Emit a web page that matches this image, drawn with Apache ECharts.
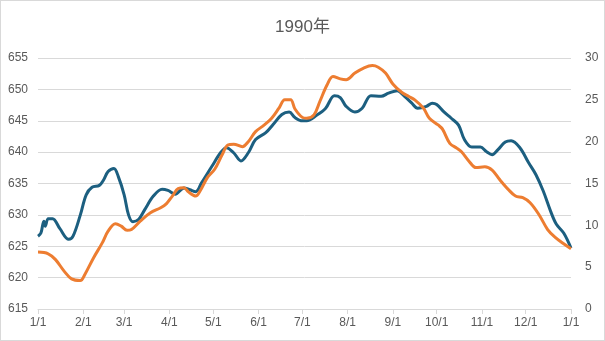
<!DOCTYPE html>
<html>
<head>
<meta charset="utf-8">
<script src="https://cdn.jsdelivr.net/npm/echarts@6/dist/echarts.min.js"></script>
<style>
  html, body { margin: 0; padding: 0; background: #fff; }
  #chart { width: 603px; height: 339px; border: 1px solid #d9d9d9; }
</style>
</head>
<body>
<div id="chart"></div>
<script>
// Title and axis ranges
const titleText = '1990年';
const leftTicks = { min: 615, max: 655, interval: 5 };
const rightTicks = { min: 0, max: 30, interval: 5 };

// Day-of-year categories, 1990-01-01 .. 1991-01-01, labelled "M/D"
const categories = [];
for (let d = new Date(Date.UTC(1990, 0, 1)); d <= new Date(Date.UTC(1991, 0, 1)); d.setUTCDate(d.getUTCDate() + 1)) {
  categories.push((d.getUTCMonth() + 1) + '/' + d.getUTCDate());
}

// Left-axis series: [day index, value]
const seriesLeft = [
  [0, 626.6], [2, 627.1], [3.5, 629.0], [4.5, 628.2], [7, 629.4], [10, 629.4],
  [15, 627.8], [21, 626.1], [24, 626.6], [29, 630.0], [33, 633.2], [37, 634.4],
  [42, 634.7], [45, 635.6], [48, 636.9], [52, 637.4], [55, 636.1], [59, 633.2],
  [62, 630.0], [65, 628.9], [69, 629.3], [73, 630.8], [79, 633.0], [85, 634.1],
  [89, 633.9], [94, 633.3], [100, 634.3], [104, 634.0], [108, 633.7], [112, 635.1],
  [119, 637.7], [125, 639.9], [129, 640.7], [134, 639.9], [139, 638.6], [144, 639.9],
  [149, 642.0], [156, 643.1], [161, 644.4], [167, 646.0], [172, 646.4], [176, 645.5],
  [181, 645.0], [184, 645.0], [191, 645.9], [197, 647.0], [203, 649.0], [207, 648.7],
  [211, 647.3], [217, 646.4], [222, 647.0], [228, 649.0], [235, 648.9], [240, 649.4],
  [246, 649.8], [251, 648.9], [256, 647.8], [260, 647.0], [266, 647.3], [270, 647.8],
  [273, 647.6], [278, 646.4], [283, 645.4], [288, 644.3], [292, 642.0], [297, 640.8],
  [303, 640.8], [307, 640.1], [311, 639.6], [315, 640.4], [320, 641.6], [324, 641.8],
  [330, 640.7], [336, 638.3], [341, 636.4], [346, 633.8], [351, 630.6], [355, 628.5],
  [360, 627.1], [365, 624.7]
];

// Right-axis series: [day index, value]
const seriesRight = [
  [0, 6.8], [7, 6.6], [12, 5.9], [18, 4.5], [23, 3.6], [29, 3.4], [32, 4.1],
  [38, 6.1], [44, 7.9], [48, 9.3], [53, 10.2], [57, 9.9], [61, 9.4], [64, 9.5],
  [70, 10.5], [77, 11.5], [84, 12.1], [88, 12.6], [92, 13.5], [96, 14.4], [100, 14.5],
  [103, 14.0], [108, 13.5], [111, 14.1], [116, 15.7], [121, 16.7], [126, 18.4],
  [130, 19.6], [134, 19.7], [140, 19.4], [144, 20.0], [149, 21.2], [155, 22.0],
  [160, 22.8], [165, 24.0], [169, 25.0], [173, 25.0], [176, 23.9], [181, 22.9],
  [184, 22.8], [189, 23.2], [193, 24.8], [198, 26.8], [202, 27.8], [207, 27.5],
  [211, 27.4], [217, 28.2], [223, 28.8], [229, 29.1], [233, 28.9], [238, 28.2],
  [243, 26.9], [249, 25.9], [254, 25.4], [258, 25.0], [264, 24.0], [268, 22.8],
  [274, 22.0], [277, 21.5], [282, 19.8], [287, 19.2], [290, 18.8], [295, 17.7],
  [300, 16.9], [306, 17.0], [311, 16.6], [316, 15.5], [322, 14.3], [327, 13.5],
  [332, 13.3], [337, 12.7], [343, 11.3], [349, 9.5], [354, 8.6], [360, 7.8], [365, 7.2]
];

const textColor = '#595959';
const gridColor = '#d9d9d9';
const isMonthStart = (idx, val) => /\/1$/.test(val);

const chart = echarts.init(document.getElementById('chart'), null, { renderer: 'canvas' });
chart.setOption({
  animation: false,
  title: {
    text: titleText,
    left: 'center',
    top: 13,
    textStyle: { color: textColor, fontSize: 17, fontWeight: 'normal', fontFamily: 'Liberation Sans, Noto Sans CJK SC, sans-serif' }
  },
  grid: { left: 37, right: 33, top: 57, bottom: 31, containLabel: false },
  xAxis: {
    type: 'category',
    data: categories,
    boundaryGap: false,
    axisLine: { lineStyle: { color: gridColor } },
    axisTick: { interval: isMonthStart, length: 5, lineStyle: { color: gridColor } },
    axisLabel: {
      interval: isMonthStart, color: textColor, fontSize: 12, margin: 8,
      fontFamily: 'Liberation Sans, sans-serif'
    },
    splitLine: { show: false }
  },
  yAxis: [
    {
      type: 'value', position: 'left', ...leftTicks,
      axisLine: { show: false }, axisTick: { show: false },
      axisLabel: { color: textColor, fontSize: 12, margin: 10, fontFamily: 'Liberation Sans, sans-serif' },
      splitLine: { lineStyle: { color: gridColor } }
    },
    {
      type: 'value', position: 'right', ...rightTicks,
      axisLine: { show: false }, axisTick: { show: false },
      axisLabel: { color: textColor, fontSize: 12, margin: 14, fontFamily: 'Liberation Sans, sans-serif' },
      splitLine: { show: false }
    }
  ],
  series: [
    {
      type: 'line', yAxisIndex: 0, data: seriesLeft, smooth: 0.35, showSymbol: false,
      lineStyle: { color: '#1c5f80', width: 3 }, itemStyle: { color: '#1c5f80' }
    },
    {
      type: 'line', yAxisIndex: 1, data: seriesRight, smooth: 0.35, showSymbol: false,
      lineStyle: { color: '#ed7d31', width: 3 }, itemStyle: { color: '#ed7d31' }
    }
  ]
});
</script>
</body>
</html>
